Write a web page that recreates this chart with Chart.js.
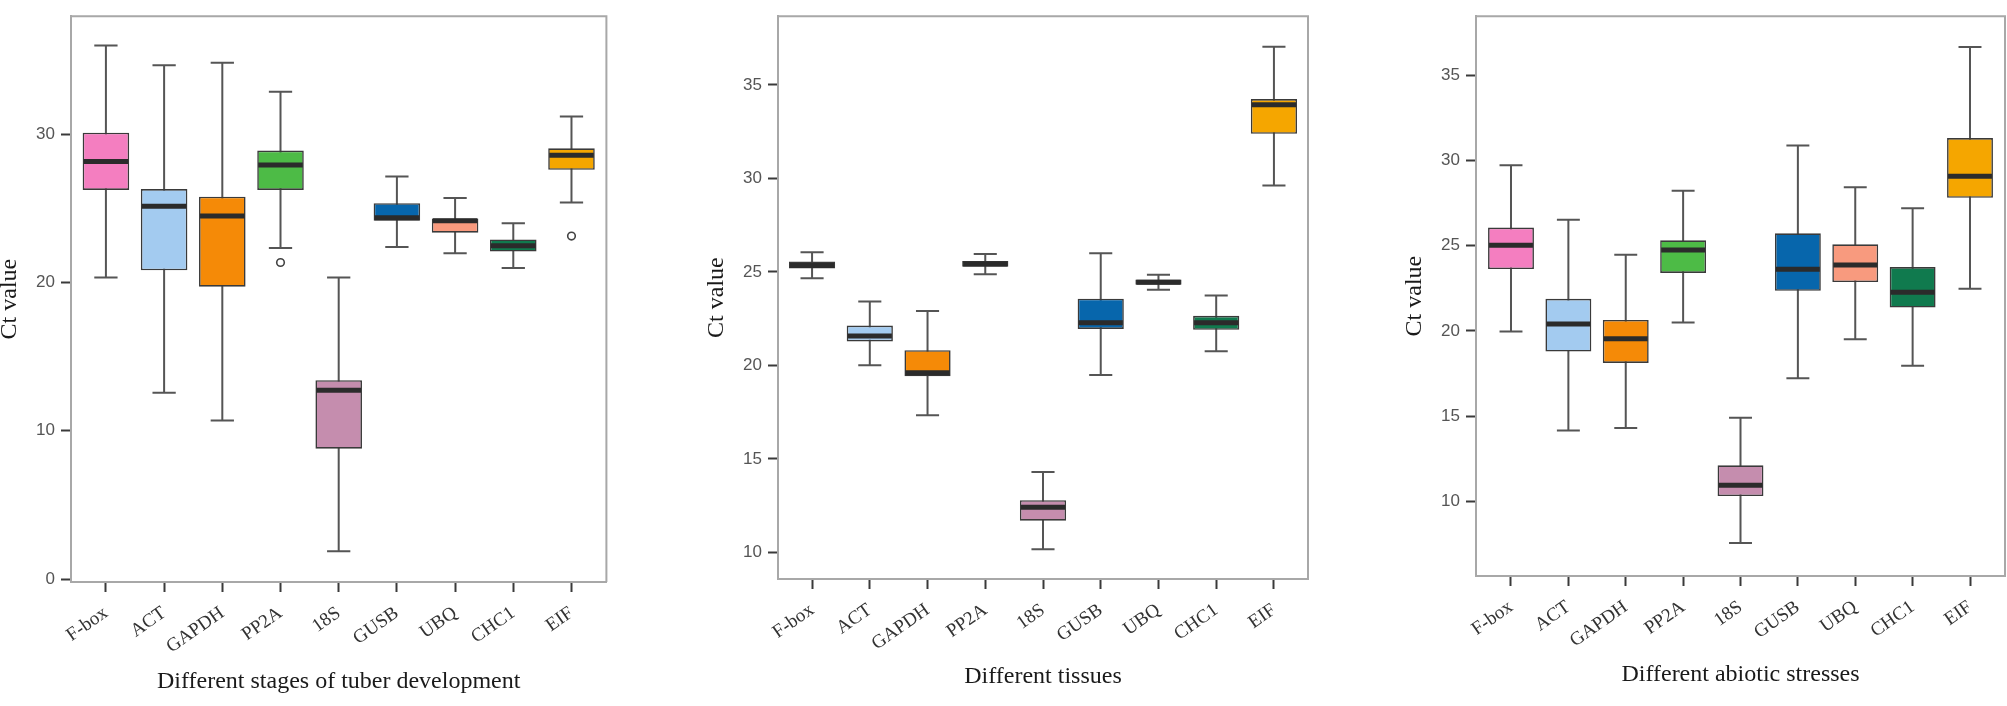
<!DOCTYPE html>
<html><head><meta charset="utf-8">
<script src="https://cdn.jsdelivr.net/npm/chart.js@4.4.1/dist/chart.umd.min.js"></script>
<style>
html,body{margin:0;padding:0;background:#fff;width:2007px;height:706px;overflow:hidden;}
canvas{position:absolute;top:0;}
</style></head><body>
<canvas id="c1" width="612" height="706" style="left:0px"></canvas>
<canvas id="c2" width="603" height="706" style="left:707px"></canvas>
<canvas id="c3" width="602" height="706" style="left:1405px"></canvas>
<script>
const categories = ['F-box','ACT','GAPDH','PP2A','18S','GUSB','UBQ','CHC1','EIF'];
const boxColors = ['#F47EC0','#A3CBF0','#F58A07','#4DBB46','#C58DAE','#0766AC','#F89A7E','#107A4E','#F5A600'];

// Different stages of tuber development
const tuberMin    = [20.34, 12.56, 10.69, 22.33,  1.87, 22.39, 21.97, 20.97, 25.40];
const tuberQ1     = [26.24, 20.82, 19.72, 26.24,  8.79, 24.16, 23.36, 22.09, 27.60];
const tuberMedian = [28.16, 25.14, 24.49, 27.92, 12.73, 24.37, 24.16, 22.47, 28.58];
const tuberQ3     = [30.10, 26.30, 25.79, 28.90, 13.41, 25.35, 24.31, 22.90, 29.05];
const tuberMax    = [35.98, 34.65, 34.82, 32.87, 20.34, 27.15, 25.70, 24.00, 31.20];
const tuberOutliers = [null, null, null, 21.35, null, null, null, null, 23.13];
const tuberTicks  = [0, 10, 20, 30];

// Different tissues
const tissueMin    = [24.66, 20.01, 17.34, 24.87, 10.17, 19.49, 24.05, 20.76, 29.62];
const tissueQ1     = [25.18, 21.28, 19.42, 25.27, 11.70, 21.95, 24.31, 21.90, 32.38];
const tissueMedian = [25.34, 21.57, 19.61, 25.42, 12.41, 22.28, 24.45, 22.28, 33.94];
const tissueQ3     = [25.56, 22.13, 20.81, 25.58, 12.79, 23.57, 24.59, 22.65, 34.24];
const tissueMax    = [26.05, 23.41, 22.91, 25.96, 14.30, 26.00, 24.85, 23.74, 37.03];
const tissueOutliers = [null, null, null, null, null, null, null, null, null];
const tissueTicks  = [10, 15, 20, 25, 30, 35];

// Different abiotic stresses
const stressMin    = [19.97, 14.15, 14.30, 20.49,  7.55, 17.22, 19.51, 17.96, 22.47];
const stressQ1     = [23.63, 18.79, 18.12, 23.40, 10.31, 22.35, 22.86, 21.37, 27.81];
const stressMedian = [25.03, 20.41, 19.54, 24.74, 10.95, 23.61, 23.87, 22.27, 29.07];
const stressQ3     = [26.06, 21.88, 20.64, 25.31, 12.11, 25.72, 25.08, 23.74, 31.31];
const stressMax    = [29.72, 26.52, 24.46, 28.22, 14.90, 30.88, 28.43, 27.19, 36.65];
const stressOutliers = [null, null, null, null, null, null, null, null, null];
const stressTicks  = [10, 15, 20, 25, 30, 35];

const boxPlugin = {
  id: 'boxWhiskers',
  beforeDatasetsDraw(chart, args, opts) {
    const ctx = chart.ctx, y = chart.scales.y;
    const meta = chart.getDatasetMeta(0);
    ctx.save();
    ctx.strokeStyle = '#555';
    ctx.lineWidth = 2;
    meta.data.forEach((bar, i) => {
      const p = bar.getProps(['x', 'width'], true);
      const yMin = y.getPixelForValue(opts.min[i]);
      const yMax = y.getPixelForValue(opts.max[i]);
      const cw = p.width * 0.5;
      ctx.beginPath();
      ctx.moveTo(p.x, yMin); ctx.lineTo(p.x, yMax);
      ctx.moveTo(p.x - cw / 2, yMin); ctx.lineTo(p.x + cw / 2, yMin);
      ctx.moveTo(p.x - cw / 2, yMax); ctx.lineTo(p.x + cw / 2, yMax);
      ctx.stroke();
    });
    ctx.restore();
  },
  afterDatasetsDraw(chart, args, opts) {
    const ctx = chart.ctx, y = chart.scales.y;
    const meta = chart.getDatasetMeta(0);
    ctx.save();
    ctx.strokeStyle = '#2b2b2b';
    ctx.lineWidth = 5;
    meta.data.forEach((bar, i) => {
      const p = bar.getProps(['x', 'width'], true);
      const ym = y.getPixelForValue(opts.median[i]);
      ctx.beginPath();
      ctx.moveTo(p.x - p.width / 2 + 1, ym); ctx.lineTo(p.x + p.width / 2 - 1, ym);
      ctx.stroke();
    });
    ctx.restore();
  }
};

const framePlugin = {
  id: 'frame',
  afterDraw(chart) {
    const a = chart.chartArea, ctx = chart.ctx;
    ctx.save();
    ctx.strokeStyle = '#a8a8a8';
    ctx.lineWidth = 2;
    ctx.beginPath();
    ctx.moveTo(a.left, a.top); ctx.lineTo(a.right, a.top); ctx.lineTo(a.right, a.bottom);
    ctx.stroke();
    ctx.restore();
  }
};

function buildBoxChart(id, p) {
  const boxes = categories.map((c, i) => ({ x: i, y: [p.q1[i], p.q3[i]] }));
  const outs = [];
  p.outliers.forEach((v, i) => { if (v !== null) outs.push({ x: i, y: v }); });
  return new Chart(document.getElementById(id), {
    type: 'bar',
    data: {
      datasets: [
        {
          type: 'bar',
          data: boxes,
          backgroundColor: boxColors,
          borderColor: '#3a3a3a',
          borderWidth: 1.6,
          borderSkipped: false,
          barPercentage: 0.8,
          categoryPercentage: 1,
          order: 2
        },
        {
          type: 'line',
          data: outs,
          showLine: false,
          pointRadius: 3.8,
          pointBackgroundColor: '#fff',
          pointBorderColor: '#444',
          pointBorderWidth: 1.6,
          order: 1
        }
      ]
    },
    options: {
      responsive: false,
      animation: false,
      devicePixelRatio: 1,
      layout: { padding: { left: 0, right: p.padRight, top: p.padTop, bottom: p.padBottom } },
      plugins: {
        legend: { display: false },
        tooltip: { enabled: false },
        boxWhiskers: { min: p.min, max: p.max, median: p.median }
      },
      scales: {
        x: {
          type: 'linear',
          offset: false,
          min: p.xMin,
          max: p.xMax,
          afterBuildTicks(s) { s.ticks = categories.map((c, i) => ({ value: i })); },
          grid: { display: true, offset: false, drawOnChartArea: false, drawTicks: true, tickLength: 10, tickWidth: 2, tickColor: '#3a3a3a' },
          border: { display: true, color: '#a8a8a8', width: 2 },
          ticks: {
            autoSkip: false, maxRotation: 35, minRotation: 35,
            callback: (v) => categories[v],
            font: { family: 'Liberation Serif', size: 19 }, color: '#333', padding: 10
          },
          title: { display: true, text: p.xTitle, font: { family: 'Liberation Serif', size: 24 }, color: '#1a1a1a', padding: { top: 0, bottom: 0 } },
          afterFit(s) { s.height = p.xHeight; }
        },
        y: {
          min: p.yMin,
          max: p.yMax,
          afterBuildTicks(s) { s.ticks = p.ticks.map(v => ({ value: v })); },
          grid: { display: true, drawOnChartArea: false, drawTicks: true, tickLength: 10, tickWidth: 2, tickColor: '#3a3a3a' },
          border: { display: true, color: '#a8a8a8', width: 2 },
          ticks: { font: { family: 'Liberation Sans', size: 17 }, color: '#555', padding: 6 },
          title: { display: true, text: 'Ct value', font: { family: 'Liberation Serif', size: 24, lineHeight: 0.85 }, color: '#1a1a1a', padding: { top: 0, bottom: 0 } },
          afterFit(s) { s.width = 71; }
        }
      }
    },
    plugins: [boxPlugin, framePlugin]
  });
}

buildBoxChart('c1', {
  min: tuberMin, q1: tuberQ1, median: tuberMedian, q3: tuberQ3, max: tuberMax, outliers: tuberOutliers,
  ticks: tuberTicks, yMin: -0.2, yMax: 37.96, xMin: -0.6, xMax: 8.6,
  xTitle: 'Different stages of tuber development',
  padTop: 2, padRight: 2, padBottom: 9.6, xHeight: 114.4
});
buildBoxChart('c2', {
  min: tissueMin, q1: tissueQ1, median: tissueMedian, q3: tissueQ3, max: tissueMax, outliers: tissueOutliers,
  ticks: tissueTicks, yMin: 8.58, yMax: 38.67, xMin: -0.59, xMax: 8.59,
  xTitle: 'Different tissues',
  padTop: 5, padRight: 2, padBottom: 14.6, xHeight: 112.4
});
buildBoxChart('c3', {
  min: stressMin, q1: stressQ1, median: stressMedian, q3: stressQ3, max: stressMax, outliers: stressOutliers,
  ticks: stressTicks, yMin: 5.62, yMax: 38.46, xMin: -0.61, xMax: 8.61,
  xTitle: 'Different abiotic stresses',
  padTop: 6, padRight: 2, padBottom: 16.6, xHeight: 113.4
});
</script>
</body></html>
